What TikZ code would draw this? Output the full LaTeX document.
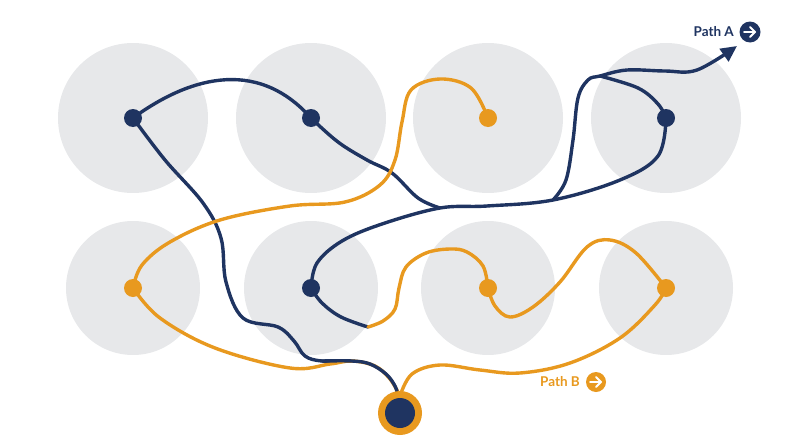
\documentclass[tikz,border=0pt]{standalone}
\usepackage{fontspec}
\setmainfont{Lato}
\usetikzlibrary{arrows.meta}
\definecolor{navy}{HTML}{1F3461}
\definecolor{amber}{HTML}{E8991F}
\definecolor{cloud}{HTML}{E7E8EA}
\begin{document}
\begin{tikzpicture}[x=1pt,y=-1pt,
  bigdisc/.style={circle,fill=cloud,inner sep=0pt,minimum size=150pt},
  smalldisc/.style={circle,fill=cloud,inner sep=0pt,minimum size=134pt},
  bluedot/.style={circle,fill=navy,inner sep=0pt,minimum size=18pt},
  orangedot/.style={circle,fill=amber,inner sep=0pt,minimum size=18pt},
  bluepath/.style={draw=navy,line width=3.4pt,line cap=round},
  orangepath/.style={draw=amber,line width=3.4pt,line cap=round},
  labeltext/.style={font=\bfseries\fontsize{13.5}{15}\selectfont,inner sep=0pt},
  icon/.style={circle,inner sep=0pt,minimum size=21pt}]
\useasboundingbox (0,0) rectangle (800,447);
% background discs
\foreach \i/\x in {1/133,2/311,3/488,4/666}{
  \node[bigdisc] (t\i) at (\x,118) {};
  \node[smalldisc] (b\i) at (\x,288) {};
}
% anchor points
\coordinate (dt1) at (133,118);
\coordinate (dt2) at (311,118);
\coordinate (dt3) at (488,118);
\coordinate (dt4) at (666,118);
\coordinate (db1) at (133,288);
\coordinate (db2) at (311,288);
\coordinate (db3) at (488,288);
\coordinate (db4) at (666,288);
\coordinate (start) at (400,396);
\coordinate (j1) at (440,208);
\coordinate (j2) at (553,200);
\coordinate (j3) at (600,76);
\coordinate (j4) at (368,327);
\coordinate (j5) at (352,361);
\coordinate (tipA) at (737,46);
% blue paths
\path[bluepath] (dt1) .. controls (185,80) and (255,55) .. (dt2);
\path[bluepath] plot[smooth,tension=0.6] coordinates {(dt1) (165,160) (203,203) (221,238) (226,282) (243,318) (278,327) (294,341) (305,356) (322,361) (j5)};
\path[bluepath] plot[smooth,tension=0.6] coordinates {(db2) (317,263) (342,241) (382,224) (j1) (487,206) (j2) (620,180) (658,156) (dt4)};
\path[bluepath] plot[smooth,tension=0.6] coordinates {(dt2) (338,142) (367,160) (392,173) (418,198) (j1)};
\path[bluepath] plot[smooth,tension=0.6] coordinates {(j3) (638,88) (658,104) (dt4)};
\path[bluepath] plot[smooth,tension=0.6] coordinates {(db2) (322,303) (341,317) (j4)};
\draw[navy,line width=3.4pt,line cap=round,-{Triangle[width=15pt,length=16pt]}] plot[smooth,tension=0.6] coordinates {(j2) (566,180) (573,140) (578,98) (588,80) (j3) (627,70) (665,71) (697,70) (tipA)};
% orange paths
\path[orangepath] plot[smooth,tension=0.6] coordinates {(dt3) (471,88) (440,79) (411,90) (402,122) (395,160) (380,185) (345,202) (290,206) (220,220) (170,242) (142,265) (db1)};
\path[orangepath] plot[smooth,tension=0.6] coordinates {(db1) (160,318) (215,348) (290,368) (330,364) (j5) (375,366) (390,379) (start)};
\path[orangepath] plot[smooth,tension=0.6] coordinates {(start) (412,374) (440,365) (480,370) (520,373) (570,363) (620,338) (655,305) (db4)};
\path[orangepath] plot[smooth,tension=0.6] coordinates {(db4) (636,253) (610,240) (587,247) (560,282) (533,307) (510,317) (495,306) (db3)};
\path[orangepath] plot[smooth,tension=0.6] coordinates {(db3) (483,266) (467,252) (450,249) (426,253) (406,267) (399,288) (395,309) (383,321) (j4)};
% blue segment into the start on top
\path[bluepath] plot[smooth,tension=0.6] coordinates {(322,361) (j5) (370,364) (386,374) (395,386) (398,396)};
% dots
\node[bluedot] (n1) at (dt1) {};
\node[bluedot] (n2) at (dt2) {};
\node[orangedot] (n3) at (dt3) {};
\node[bluedot] (n4) at (dt4) {};
\node[orangedot] (n5) at (db1) {};
\node[bluedot] (n6) at (db2) {};
\node[orangedot] (n7) at (db3) {};
\node[orangedot] (n8) at (db4) {};
% start node
\node[circle,fill=amber,inner sep=0pt,minimum size=44pt] (s) at (400,413) {};
\node[circle,fill=navy,inner sep=0pt,minimum size=30pt] (sin) at (400,413) {};
% labels
\node[labeltext,text=navy,anchor=east] (la) at (734,32) {Path A};
\node[icon,fill=navy] (ia) at (750,32) {};
\draw[white,line width=2pt,line cap=round,line join=round] ([xshift=-6pt]ia.center) -- ([xshift=5pt]ia.center);
\draw[white,line width=2pt,line cap=round,line join=round] ([xshift=0pt,yshift=-5pt]ia.center) -- ([xshift=5pt]ia.center) -- ([xshift=0pt,yshift=5pt]ia.center);
\node[labeltext,text=amber,anchor=east] (lb) at (580,382) {Path B};
\node[icon,fill=amber,minimum size=20pt] (ib) at (596,382) {};
\draw[white,line width=2pt,line cap=round,line join=round] ([xshift=-6pt]ib.center) -- ([xshift=5pt]ib.center);
\draw[white,line width=2pt,line cap=round,line join=round] ([xshift=0pt,yshift=-5pt]ib.center) -- ([xshift=5pt]ib.center) -- ([xshift=0pt,yshift=5pt]ib.center);
\end{tikzpicture}
\end{document}
